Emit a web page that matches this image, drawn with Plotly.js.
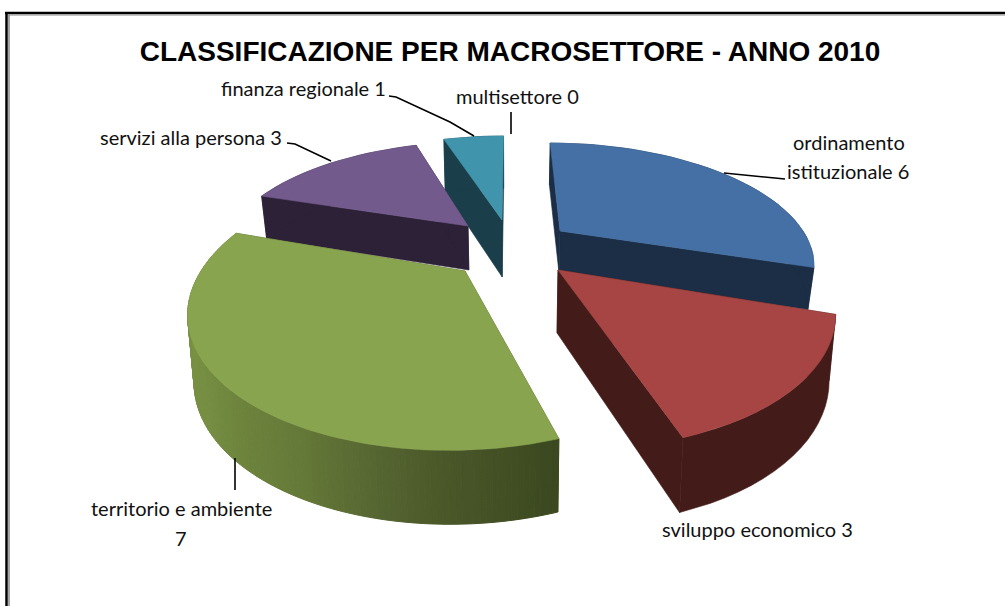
<!DOCTYPE html>
<html><head><meta charset="utf-8">
<script src="https://cdn.plot.ly/plotly-3.0.0.min.js"></script>
<style>html,body{margin:0;padding:0;background:#fff}#c{width:1005px;height:606px}</style>
</head><body><div id="c"></div>
<script>
const categories = ["ordinamento istituzionale","sviluppo economico","territorio e ambiente","servizi alla persona","finanza regionale","multisettore"];
const values = [6,3,7,3,1,0];
const topColors = ["#4470a5","#a64543","#89a44f","#725a8d","#4095ad","#e08a3c"];
const sideColors = ["#1b2e46","#431c19","#4b5829","#2d2138","#1b3e4b","#6b3f17"];

// 3D view of each wedge (pixels on the page): apex, radius, squash, perspective, wall
const viewX = 510;
const apexX = [560,558,465,468,502,510];
const apexY = [231,270,271,226,220,220];
const radius = [243,264,264,236,236,236];
const squash = [0.45,0.5,0.5,0.44,0.44,0.44];
const persp = 0.001;
const wallH = [42,63,65,44,57,50];
const wallA = [0,0.6,0.42,0.5,0.4,0.4];
const drawOrder = [4,3,0,2,1];

const total = values.reduce((a,b)=>a+b,0);
const start = []; let acc = 0;
values.forEach(v=>{start.push(acc/total*360); acc+=v;});

function pt(i,theta,bottom){
  const t = theta*Math.PI/180, dX = radius[i]*Math.sin(t), dY = -radius[i]*Math.cos(t);
  return rawPt(i,dX,dY,bottom);
}
function rawPt(i,dX,dY,bottom){
  const p = 1/(1-persp*dY), shrink = bottom?0.98:1;
  const x = viewX+((apexX[i]-viewX)+dX)*p*shrink;
  let y = apexY[i]+dY*squash[i]*p;
  if(bottom) y += wallH[i]*Math.pow(p,wallA[i]);
  return [x,y];
}
const traces = [];
function poly(pts,color,w){
  traces.push({type:"scatter",mode:"lines",x:pts.map(q=>q[0]).concat(pts[0][0]),y:pts.map(q=>q[1]).concat(pts[0][1]),
    fill:"toself",fillcolor:color,line:{color:color,width:w===undefined?0.6:w},hoverinfo:"skip",showlegend:false});
}
function mix(a,b,t){return "rgb("+a.map((v,k)=>Math.round(v+(b[k]-v)*t)).join(",")+")";}
const greenStops = [[270,[122,146,68]],[235,[118,142,66]],[207,[101,122,56]],[192,[86,102,50]],[182,[75,88,41]],[162,[59,72,32]]];
function greenShade(th){
  for(let k=0;k<greenStops.length-1;k++){
    const a=greenStops[k],b=greenStops[k+1];
    if(th<=a[0]&&th>=b[0]) return mix(a[1],b[1],(a[0]-th)/(a[0]-b[0]));
  }
  return mix(greenStops[0][1],greenStops[0][1],0);
}
drawOrder.forEach(i=>{
  const a0=start[i], a1=a0+values[i]/total*360, n=Math.max(4,Math.round((a1-a0)/(i===2?1:3)));
  const th=[]; for(let k=0;k<=n;k++) th.push(a0+(a1-a0)*k/n);
  const apexT=rawPt(i,0,0,false), apexB=rawPt(i,0,0,true);
  poly([apexT,pt(i,a0,false),pt(i,a0,true),apexB],sideColors[i]);
  poly([apexT,pt(i,a1,false),pt(i,a1,true),apexB],sideColors[i]);
  if(i===2){
    for(let k=0;k<n;k++){
      poly([pt(i,th[k],false),pt(i,th[k+1],false),pt(i,th[k+1],true),pt(i,th[k],true)],greenShade((th[k]+th[k+1])/2),1);
    }
  } else {
    poly(th.map(t=>pt(i,t,false)).concat(th.slice().reverse().map(t=>pt(i,t,true))),sideColors[i]);
  }
  poly([apexT].concat(th.map(t=>pt(i,t,false))),topColors[i]);
});

// leader lines
const leaders = [
  [[724,173],[745,175],[760,177],[785,179]],
  [[235,458],[235,490]],
  [[287,143],[295,144],[331,161]],
  [[389,96],[396,97],[450,122],[474,136]],
  [[511,112],[511,134]]
];
leaders.forEach(l=>traces.push({type:"scatter",mode:"lines",x:l.map(q=>q[0]),y:l.map(q=>q[1]),
  line:{color:"#000",width:1.6},hoverinfo:"skip",showlegend:false}));

const labelText = ["ordinamento","istituzionale 6","sviluppo economico 3","territorio e ambiente","7","servizi alla persona 3","finanza regionale 1","multisettore 0"];
const labelX = [849,848,757,181,181,191,303,517];
const labelY = [142,171,529,508,538,137,88,96];
const annotations = labelText.map((t,k)=>({text:t,x:labelX[k],y:labelY[k],xref:"x",yref:"y",showarrow:false,
  xanchor:"center",yanchor:"middle",font:{family:"Lato, Carlito, sans-serif",size:20,color:"#111"}}));

const frame = (x0,y0,x1,y1,c,w)=>({type:"line",xref:"x",yref:"y",x0,y0,x1,y1,line:{color:c,width:w}});
const shapes = [
  frame(6.5,13,6.5,606,"#000",2.5), frame(9,15,9,606,"#8a8a8a",1.5),
  frame(5,13,1005,13,"#000",2.5), frame(8,15,1005,15,"#8a8a8a",1)
];

Plotly.newPlot("c",traces,{
  width:1005,height:606,margin:{l:0,r:0,t:0,b:0},paper_bgcolor:"#fff",plot_bgcolor:"#fff",showlegend:false,
  title:{text:"<b>CLASSIFICAZIONE PER MACROSETTORE - ANNO 2010</b>",x:510/1005,xref:"paper",xanchor:"center",y:1-51/606,yref:"paper",yanchor:"middle",
    font:{family:"Liberation Sans, Arial, sans-serif",size:28,color:"#000"}},
  xaxis:{range:[0,1005],visible:false,fixedrange:true},
  yaxis:{range:[606,0],visible:false,fixedrange:true},
  annotations,shapes
},{displayModeBar:false,staticPlot:true});
</script></body></html>
